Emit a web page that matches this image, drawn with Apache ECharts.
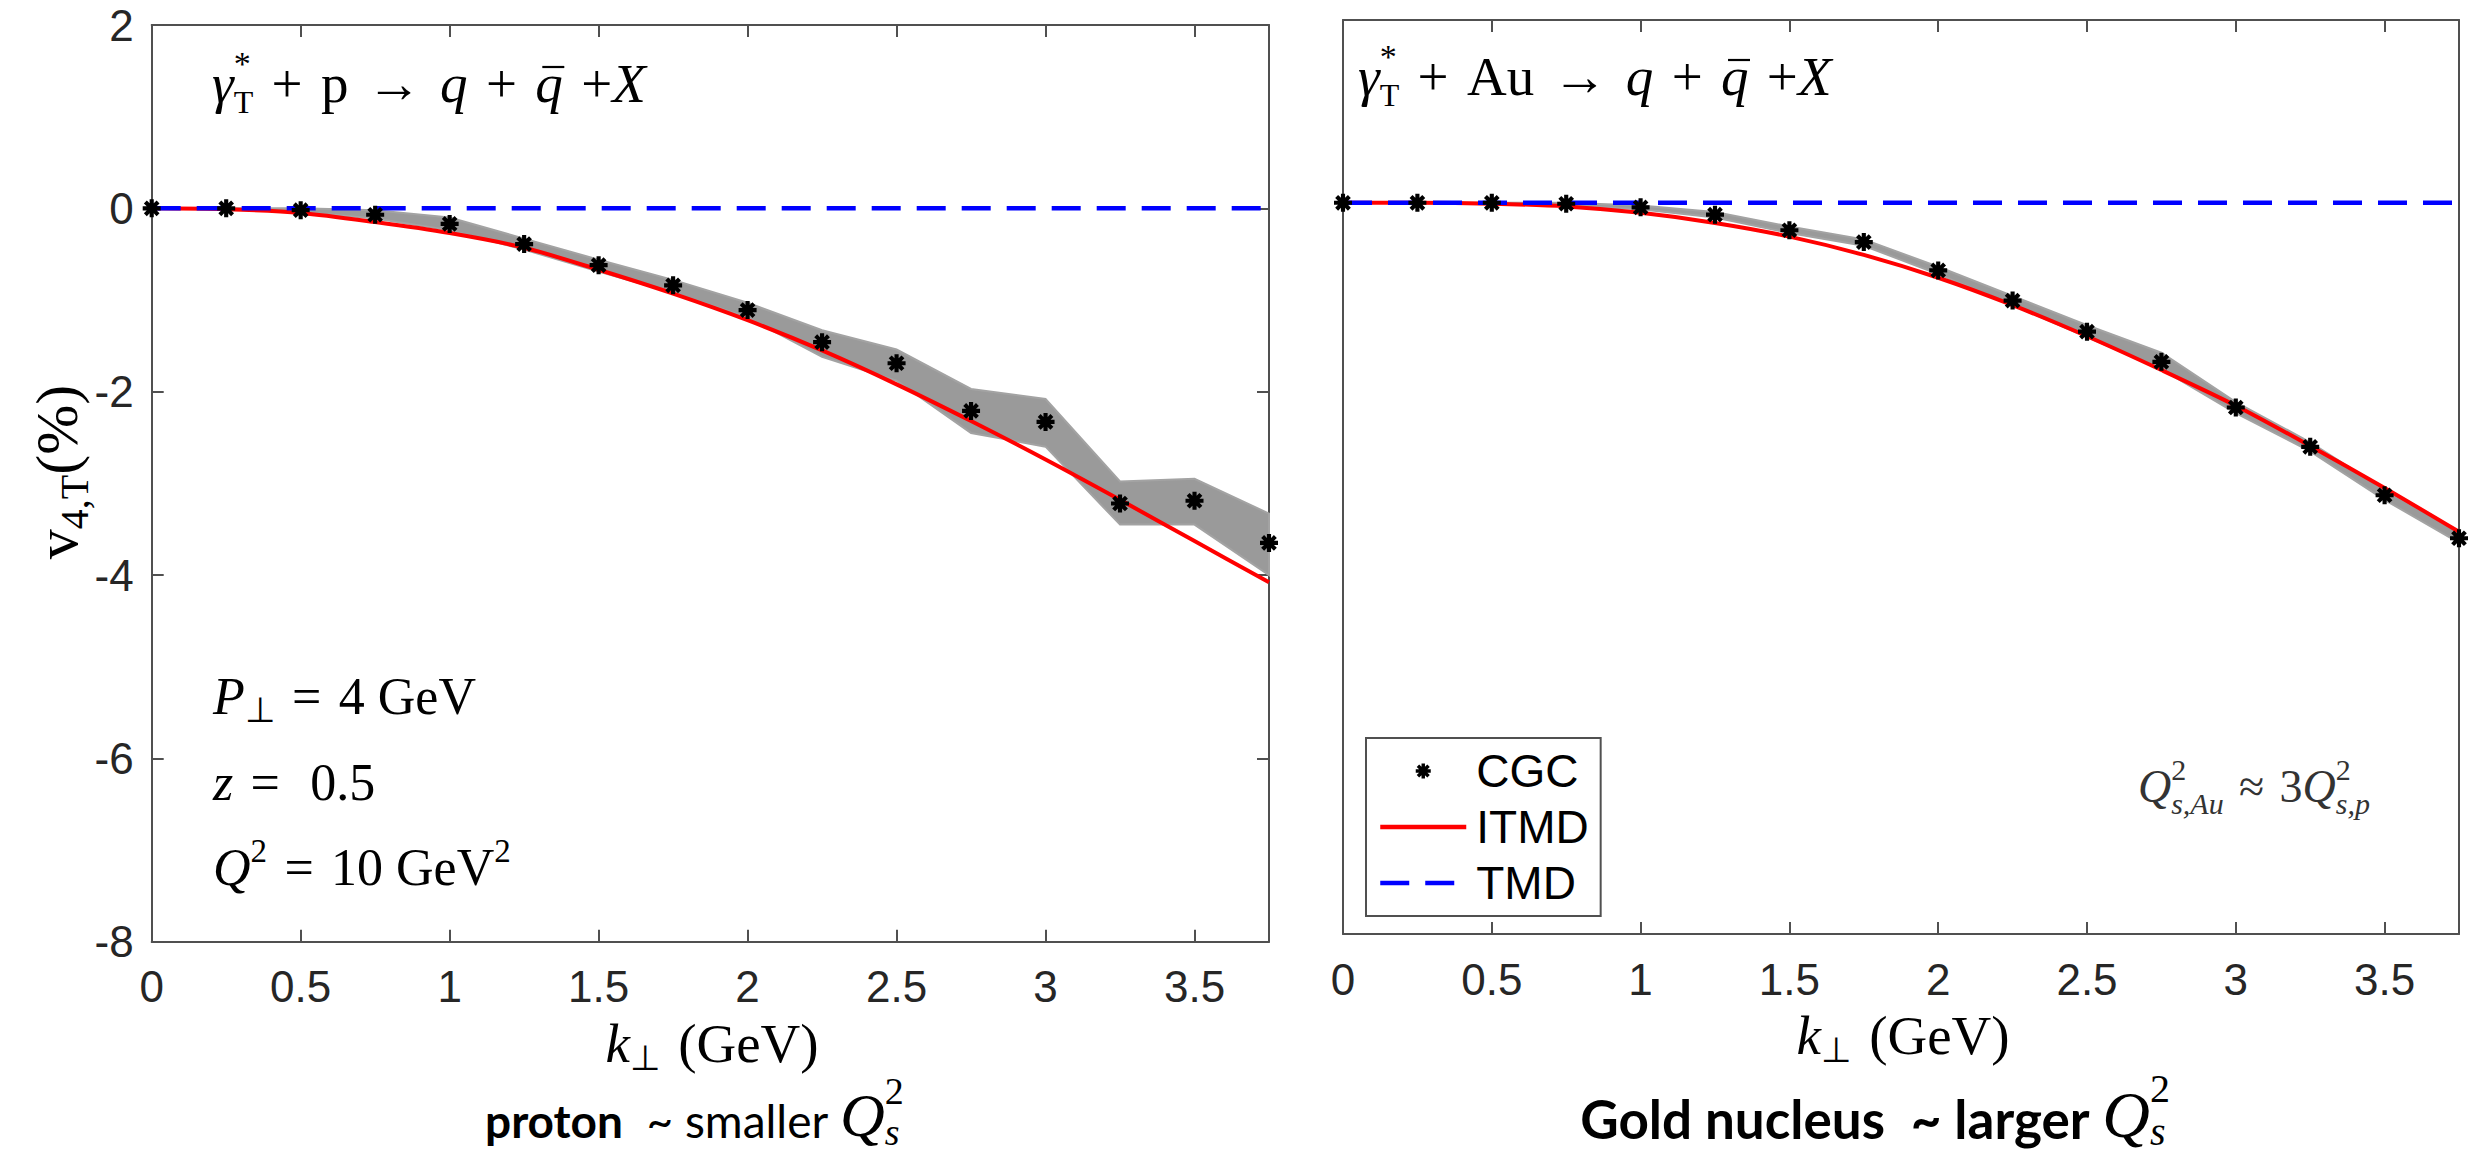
<!DOCTYPE html>
<html><head><meta charset="utf-8">
<script src="https://cdn.jsdelivr.net/npm/echarts@6/dist/echarts.min.js"></script>
<style>html,body{margin:0;padding:0;background:#fff}#chart{width:2468px;height:1157px}</style>
</head><body><div id="chart"></div>
<script>
// ---------------- data ----------------
const kValues        = [0, 0.25, 0.5, 0.75, 1, 1.25, 1.5, 1.75, 2, 2.25, 2.5, 2.75, 3, 3.25, 3.5, 3.75];
// proton
const cgcProton      = [0, 0, -0.02, -0.07, -0.17, -0.39, -0.62, -0.84, -1.11, -1.46, -1.69, -2.21, -2.33, -3.22, -3.19, -3.65];
const bandProtonHigh = [0, 0, 0, -0.02, -0.1, -0.33, -0.56, -0.78, -1.03, -1.33, -1.54, -1.97, -2.08, -2.98, -2.95, -3.33];
const bandProtonLow  = [0, 0, -0.04, -0.11, -0.24, -0.45, -0.69, -0.92, -1.19, -1.62, -1.88, -2.45, -2.6, -3.45, -3.45, -4.0];
const itmdProton     = [0, -0.01, -0.05, -0.15, -0.27, -0.43, -0.67, -0.93, -1.22, -1.55, -1.92, -2.32, -2.74, -3.18, -3.63, -4.08];
const tmdProton      = [0, 0, 0, 0, 0, 0, 0, 0, 0, 0, 0, 0, 0, 0, 0, 0];
// gold
const cgcGold        = [0, 0, 0, -0.01, -0.05, -0.13, -0.3, -0.43, -0.74, -1.07, -1.41, -1.74, -2.24, -2.67, -3.2, -3.67];
const bandGoldHigh   = [0, 0, 0, 0, -0.03, -0.1, -0.26, -0.4, -0.7, -1.02, -1.34, -1.64, -2.18, -2.62, -3.14, -3.6];
const bandGoldLow    = [0, 0, -0.01, -0.03, -0.07, -0.16, -0.33, -0.47, -0.78, -1.12, -1.47, -1.82, -2.3, -2.72, -3.25, -3.72];
const itmdGold       = [0, 0, -0.01, -0.04, -0.11, -0.22, -0.37, -0.57, -0.82, -1.12, -1.46, -1.83, -2.22, -2.66, -3.12, -3.6];
const tmdGold        = [0, 0, 0, 0, 0, 0, 0, 0, 0, 0, 0, 0, 0, 0, 0, 0];
// axes
const xRange = [0, 3.75], xStep = 0.5;
const yRange = [-8, 2],  yStep = 2;
const legendNames = ['CGC', 'ITMD', 'TMD'];

// ---------------- helpers ----------------
const SERIF = '"Liberation Serif", "Times New Roman", serif';
const SANS = '"Liberation Sans", Arial, Helvetica, sans-serif';
const CAP = 'Lato, "Open Sans", sans-serif';
const SP = '\u2004';
const mctx = document.createElement('canvas').getContext('2d');
function layout(tokens, base) {
  let x = 0, lastStart = 0;
  const out = [];
  for (const tk of tokens) {
    const s = tk.s || base.s;
    if (tk.bar) {
      out.push({ bar: true, x: lastStart + (tk.dx || 0), w: tk.w, dy: tk.dy || 0, s: s });
      continue;
    }
    const font = (tk.i ? 'italic ' : '') + (tk.b ? 'bold ' : '') + s + 'px ' + (tk.fam || base.fam);
    mctx.font = font;
    const w = mctx.measureText(tk.t).width;
    const start = (tk.same ? lastStart : x) + (tk.dx || 0);
    const end = start + w;
    out.push({ t: tk.t, font: font, s: s, x: start, dy: tk.dy || 0, fill: tk.c });
    if (tk.same) { x = Math.max(x, end); } else { lastStart = start; x = end; }
  }
  return { items: out, width: x };
}
function mathText(tokens, base, ax, baseline, align) {
  const L = layout(tokens, base);
  const x0 = align === 'center' ? ax - L.width / 2 : (align === 'right' ? ax - L.width : ax);
  const col = base.c || '#000';
  return L.items.map(function (it) {
    if (it.bar) {
      return { type: 'line', silent: true, z: 100,
        shape: { x1: x0 + it.x, y1: baseline + it.dy, x2: x0 + it.x + it.w, y2: baseline + it.dy },
        style: { stroke: col, lineWidth: 2.2 } };
    }
    return {
      type: 'text', silent: true, z: 100,
      x: x0 + it.x, y: baseline + it.dy - 0.3 * it.s,
      style: { text: it.t, font: it.font, fill: it.fill || col, align: 'left', verticalAlign: 'middle' }
    };
  });
}
// eight-armed asterisk marker outline (single simple polygon)
function asteriskPath(len, half) {
  const inner = half / Math.sin(Math.PI / 8);
  const p = [];
  for (let i = 0; i < 8; i++) {
    const a = i * Math.PI / 4, ca = Math.cos(a), sa = Math.sin(a);
    p.push([len * ca + half * sa, len * sa - half * ca]);
    p.push([len * ca - half * sa, len * sa + half * ca]);
    const b = a + Math.PI / 8;
    p.push([inner * Math.cos(b), inner * Math.sin(b)]);
  }
  return 'path://' + p.map(function (q, i) { return (i ? 'L' : 'M') + q[0].toFixed(2) + ',' + q[1].toFixed(2); }).join('') + 'Z';
}
const asterisk = asteriskPath(10, 2.3);

function bandRenderer(high, low) {
  return function (params, api) {
    if (params.dataIndex !== 0) return;
    const pts = [];
    for (let i = 0; i < kValues.length; i++) pts.push(api.coord([kValues[i], high[i]]));
    for (let i = kValues.length - 1; i >= 0; i--) pts.push(api.coord([kValues[i], low[i]]));
    return { type: 'polygon', shape: { points: pts }, style: { fill: '#9a9a9a', stroke: '#a3a3a3', lineWidth: 2 } };
  };
}
function pairs(ys) { return kValues.map(function (k, i) { return [k, ys[i]]; }); }

const FRAME = '#505050';
function xAxisDef(grid, pos, labels) {
  return {
    type: 'value', gridIndex: grid, position: pos, min: xRange[0], max: xRange[1], interval: xStep,
    axisLine: { show: true, onZero: false, lineStyle: { color: FRAME, width: 2 } },
    axisTick: { show: true, inside: true, length: 12, lineStyle: { color: FRAME, width: 2 } },
    axisLabel: { show: labels, showMaxLabel: false, margin: 23, fontSize: 44, fontFamily: SANS, color: '#262626' },
    splitLine: { show: false }
  };
}
function yAxisDef(grid, pos, labels, ticks) {
  return {
    type: 'value', gridIndex: grid, position: pos, min: yRange[0], max: yRange[1], interval: yStep,
    axisLine: { show: true, onZero: false, lineStyle: { color: FRAME, width: 2 } },
    axisTick: { show: ticks, inside: true, length: 12, lineStyle: { color: FRAME, width: 2 } },
    axisLabel: { show: labels, margin: 18, fontSize: 44, fontFamily: SANS, color: '#262626' },
    splitLine: { show: false }
  };
}
function panelSeries(xi, yi, cgc, high, low, itmd, tmd) {
  return [
    { type: 'custom', xAxisIndex: xi, yAxisIndex: yi, renderItem: bandRenderer(high, low),
      data: kValues.map(function (k, i) { return [k, high[i], low[i]]; }), encode: { x: 0, y: [1, 2] }, z: 1, silent: true },
    { name: 'ITMD', type: 'line', xAxisIndex: xi, yAxisIndex: yi, data: pairs(itmd), smooth: 0.3, symbol: 'none',
      lineStyle: { color: '#ff0000', width: 4 }, itemStyle: { color: '#ff0000' }, z: 2, silent: true },
    { name: 'TMD', type: 'line', xAxisIndex: xi, yAxisIndex: yi, data: pairs(tmd), symbol: 'none',
      lineStyle: { color: '#0000ff', width: 4.5, type: [29, 16] }, itemStyle: { color: '#0000ff' }, z: 3, silent: true },
    { name: 'CGC', type: 'scatter', xAxisIndex: xi, yAxisIndex: yi, data: pairs(cgc), symbol: asterisk, symbolSize: 18,
      itemStyle: { color: '#000', opacity: 1 }, z: 4, silent: true }
  ];
}

// ---------------- text ----------------
const T = { s: 55, fam: SERIF };
const M = { s: 52, fam: SERIF };
function titleTokens(target) {
  return [{ t: 'γ', i: 1 }, { t: '*', s: 34, dy: -26 }, { t: 'T', s: 32, dy: 12, same: 1 },
    { t: SP + '+' + SP + target + SP + '→' + SP }, { t: 'q', i: 1 }, { t: SP + '+' + SP }, { t: 'q', i: 1 },
    { bar: true, dx: 7, w: 22, dy: -33 }, { t: SP + '+' }, { t: 'X', i: 1 }];
}
const graphics = [].concat(
  mathText(titleTokens('p'), T, 212, 100, 'left'),
  mathText(titleTokens('Au'), T, 1358, 93, 'left'),
  // left parameters
  mathText([{ t: 'P', i: 1 }, { t: '⊥', s: 35, dy: 9 }, { t: SP + '=' + SP + '4 GeV' }], M, 213, 712, 'left'),
  mathText([{ t: 'z', i: 1 }, { t: SP + '=' + SP + ' 0.5' }], M, 213, 798, 'left'),
  mathText([{ t: 'Q', i: 1 }, { t: '2', s: 33, dy: -22 }, { t: SP + '=' + SP + '10 GeV' }, { t: '2', s: 33, dy: -22 }], M, 213, 883, 'left'),
  // right saturation ratio
  mathText([{ t: 'Q', i: 1 }, { t: '2', s: 30, dy: -22 }, { t: 's,Au', i: 1, s: 30, dy: 12, same: 1 },
    { t: SP + '≈' + SP + '3' }, { t: 'Q', i: 1 }, { t: '2', s: 30, dy: -22 }, { t: 's,p', i: 1, s: 30, dy: 12, same: 1 }],
    { s: 46, fam: SERIF, c: '#333' }, 2370, 800, 'right'),
  // x axis names
  mathText([{ t: 'k', i: 1 }, { t: '⊥', s: 35, dy: 9 }, { t: SP + '(GeV)' }], { s: 55, fam: SERIF }, 712, 1060, 'center'),
  mathText([{ t: 'k', i: 1 }, { t: '⊥', s: 35, dy: 9 }, { t: SP + '(GeV)' }], { s: 55, fam: SERIF }, 1903, 1052, 'center'),
  // captions
  mathText([{ t: 'proton', b: 1 }, { t: '  ~ smaller ' }, { t: 'Q', i: 1, fam: SERIF, s: 62 },
    { t: '2', fam: SERIF, s: 38, dy: -32 }, { t: 's', i: 1, fam: SERIF, s: 38, dy: 9, same: 1 }],
    { s: 46, fam: CAP }, 485, 1134, 'left'),
  mathText([{ t: 'Gold nucleus', b: 1 }, { t: '  ~ larger ', b: 1 }, { t: 'Q', i: 1, fam: SERIF, s: 66 },
    { t: '2', fam: SERIF, s: 40, dy: -34 }, { t: 's', i: 1, fam: SERIF, s: 40, dy: 9, same: 1 }],
    { s: 53, fam: CAP }, 2170, 1134, 'right')
);
// rotated y axis name
graphics.push({
  type: 'group', x: 58, y: 472, rotation: Math.PI / 2, silent: true,
  children: mathText([{ t: 'v' }, { t: '4,T', s: 40, dy: 11 }, { t: '(%)' }], { s: 60, fam: SERIF }, 0, 17, 'center')
});

// ---------------- chart ----------------
const chart = echarts.init(document.getElementById('chart'), null, { renderer: 'svg', width: 2468, height: 1157 });
chart.setOption({
  animation: false,
  backgroundColor: '#fff',
  grid: [
    { left: 151.7, top: 25, width: 1117.3, height: 916.7, containLabel: false },
    { left: 1343, top: 20, width: 1116, height: 914, containLabel: false }
  ],
  xAxis: [xAxisDef(0, 'bottom', true), xAxisDef(0, 'top', false), xAxisDef(1, 'bottom', true), xAxisDef(1, 'top', false)],
  yAxis: [yAxisDef(0, 'left', true, true), yAxisDef(0, 'right', false, true), yAxisDef(1, 'left', false, false), yAxisDef(1, 'right', false, false)],
  legend: {
    data: [
      { name: legendNames[0] },
      { name: legendNames[1], itemStyle: { opacity: 0 }, lineStyle: { width: 4.5 } },
      { name: legendNames[2], itemStyle: { opacity: 0 }, lineStyle: { width: 4.5 } }
    ],
    orient: 'vertical', left: 1366, top: 738,
    padding: [10, 12, 10, 12], itemGap: 10, itemWidth: 86, itemHeight: 15,
    borderColor: FRAME, borderWidth: 2, borderRadius: 0, backgroundColor: '#fff',
    textStyle: { fontSize: 46, fontFamily: SANS, color: '#000', padding: [0, 0, 0, 5] },
    selectedMode: false, z: 50
  },
  series: [].concat(
    panelSeries(0, 0, cgcProton, bandProtonHigh, bandProtonLow, itmdProton, tmdProton),
    panelSeries(2, 2, cgcGold, bandGoldHigh, bandGoldLow, itmdGold, tmdGold)
  ),
  graphic: graphics
});
</script></body></html>
